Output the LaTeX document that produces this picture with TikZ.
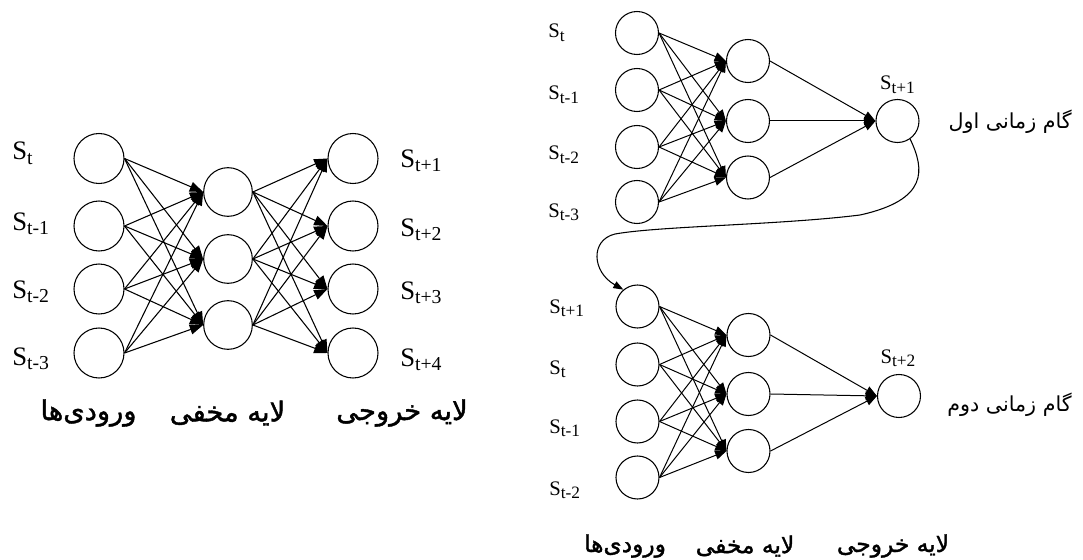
\documentclass[tikz,border=0pt]{standalone}
\usepackage{fontspec}
\usepackage{graphicx}
\setmainfont{Liberation Serif}
\newfontfamily\arabicfont[Script=Arabic]{DejaVu Sans}
\newfontfamily\arabicboldfont[Script=Arabic,FakeBold=1.5]{DejaVu Sans}
\TeXXeTstate=1
\usetikzlibrary{arrows.meta}
\newcommand{\Sv}[1]{S\raisebox{-0.18em}{\scalebox{0.74}{#1}}}
\newcommand{\Sw}[1]{S\raisebox{-0.16em}{\scalebox{0.84}{#1}}}
\tikzset{
  neuL/.style={circle,draw,line width=0.8pt,minimum size=37.5pt,inner sep=0pt},
  neuH/.style={circle,draw,line width=0.8pt,minimum size=36.5pt,inner sep=0pt},
  neuR/.style={circle,draw,line width=0.8pt,minimum size=32.25pt,inner sep=0pt},
  conL/.style={line width=0.8pt,-{Triangle[length=10pt,width=7.5pt]}},
  conR/.style={line width=0.75pt,-{Triangle[length=8.5pt,width=6.5pt]}},
  loopcon/.style={line width=0.8pt,-{Triangle[length=7.5pt,width=5.5pt]}},
  labL/.style={font=\fontsize{20}{24}\selectfont,anchor=base west,inner sep=0pt},
  labR/.style={font=\fontsize{15.5}{19}\selectfont,anchor=base west,inner sep=0pt},
  labRc/.style={font=\fontsize{15.5}{19}\selectfont,anchor=base,inner sep=0pt},
  faL/.style={font=\arabicboldfont\fontsize{20.5}{24}\selectfont,inner sep=0pt},
  faR/.style={font=\arabicboldfont\fontsize{17.5}{21}\selectfont,inner sep=0pt},
  faT/.style={font=\arabicfont\fontsize{15.5}{19}\selectfont,inner sep=0pt,anchor=east}
}
\begin{document}
\begin{tikzpicture}[x=0.75pt,y=-0.75pt]
\useasboundingbox (0,0) rectangle (1083,560);
% ---------------- left network ----------------
\foreach \i/\y in {1/158.5,2/226,3/289,4/353} {
  \node[neuL] (li\i) at (99,\y) {};
  \node[neuL] (lo\i) at (353,\y) {};
}
\foreach \j/\y in {1/192,2/259,3/325}
  \node[neuH] (lh\j) at (228,\y) {};
\foreach \i in {1,...,4} \foreach \j in {1,2,3}
  \draw[conL] (li\i.east) -- (lh\j.west);
\foreach \j in {1,2,3} \foreach \k in {1,...,4}
  \draw[conL] (lh\j.east) -- (lo\k.west);
\node[labL] (lli1) at (12,160) {\Sv{t}};
\node[labL] (lli2) at (12,230) {\Sv{t-1}};
\node[labL] (lli3) at (12,298) {\Sv{t-2}};
\node[labL] (lli4) at (12,365) {\Sv{t-3}};
\node[labL] (llo1) at (400,167) {\Sv{t+1}};
\node[labL] (llo2) at (400,236) {\Sv{t+2}};
\node[labL] (llo3) at (400,299) {\Sv{t+3}};
\node[labL] (llo4) at (400,366) {\Sv{t+4}};
\node[faL] (lfa1) at (88.5,413) {\beginR ورودی‌ها\endR};
\node[faL] (lfa2) at (227.5,413) {\beginR لایه مخفی\endR};
\node[faL] (lfa3) at (402,413) {\beginR لایه خروجی\endR};
% ---------------- right top network ----------------
\foreach \i/\y in {1/33,2/90,3/147,4/202}
  \node[neuR] (ti\i) at (637,\y) {};
\foreach \j/\y in {1/61,2/121,3/177.5}
  \node[neuR] (th\j) at (748,\y) {};
\node[neuR] (to1) at (897.5,121) {};
\foreach \i in {1,...,4} \foreach \j in {1,2,3}
  \draw[conR] (ti\i.east) -- (th\j.west);
\foreach \j in {1,2,3}
  \draw[conR] (th\j.east) -- (to1.west);
\node[labR] (tli1) at (548,38) {\Sw{t}};
\node[labR] (tli2) at (548,100) {\Sw{t-1}};
\node[labR] (tli3) at (548,160) {\Sw{t-2}};
\node[labR] (tli4) at (548,217) {\Sw{t-3}};
\node[labRc] (tlo1) at (897.5,90) {\Sw{t+1}};
\node[faT] (tfa) at (1072,122) {\beginR گام زمانی اول\endR};
% ---------------- right bottom network ----------------
\foreach \i/\y in {1/306.5,2/364.5,3/421.5,4/477.5}
  \node[neuR] (bi\i) at (637.5,\y) {};
\foreach \j/\y in {1/335,2/394,3/451}
  \node[neuR] (bh\j) at (748.5,\y) {};
\node[neuR] (bo1) at (899,396) {};
\foreach \i in {1,...,4} \foreach \j in {1,2,3}
  \draw[conR] (bi\i.east) -- (bh\j.west);
\foreach \j in {1,2,3}
  \draw[conR] (bh\j.east) -- (bo1.west);
\node[labR] (bli1) at (549,313.5) {\Sw{t+1}};
\node[labR] (bli2) at (549,374.5) {\Sw{t}};
\node[labR] (bli3) at (549,433.5) {\Sw{t-1}};
\node[labR] (bli4) at (549,495.5) {\Sw{t-2}};
\node[labRc] (blo1) at (898,363) {\Sw{t+2}};
\node[faT] (bfa) at (1072,405) {\beginR گام زمانی دوم\endR};
\node[faR] (rfa1) at (625,546) {\beginR ورودی‌ها\endR};
\node[faR] (rfa2) at (745,546) {\beginR لایه مخفی\endR};
\node[faR] (rfa3) at (893,546) {\beginR لایه خروجی\endR};
% ---------------- feedback curve ----------------
\coordinate (k1) at (860,215);
\coordinate (k2) at (615,234);
\draw[loopcon] (to1.-55) .. controls (925,170) and (928,200) .. (k1)
  .. controls (780,225) and (660,226) .. (k2)
  .. controls (590,240) and (592,272) .. (bi1.130);
\end{tikzpicture}
\end{document}
